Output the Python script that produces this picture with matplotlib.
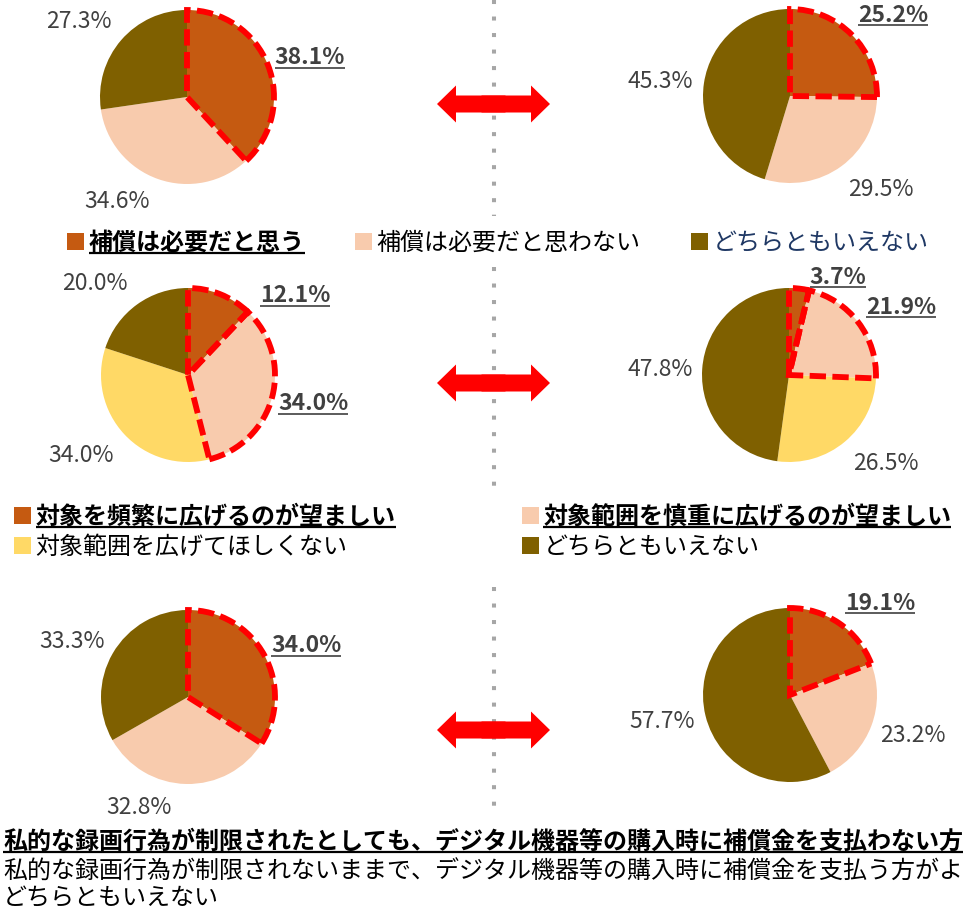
import matplotlib
matplotlib.use('Agg')
import matplotlib.pyplot as plt
from matplotlib.patches import Wedge, Patch, FancyArrow

plt.rcParams['font.family'] = ['Noto Sans CJK JP', 'DejaVu Sans']

W, H = 963, 910

# ---------------- data ----------------
q1_categories = ['補償は必要だと思う', '補償は必要だと思わない', 'どちらともいえない']
q1_colors = ['#C55A11', '#F8CBAD', '#7F6000']
q1_left = [38.1, 34.6, 27.3]
q1_right = [25.2, 29.5, 45.3]
q1_highlight = [0]

q2_categories = ['対象を頻繁に広げるのが望ましい', '対象範囲を慎重に広げるのが望ましい',
                 '対象範囲を広げてほしくない', 'どちらともいえない']
q2_colors = ['#C55A11', '#F8CBAD', '#FFD966', '#7F6000']
q2_left = [12.1, 34.0, 34.0, 20.0]
q2_right = [3.7, 21.9, 26.5, 47.8]
q2_highlight = [0, 1]

q3_categories = ['私的な録画行為が制限されたとしても、デジタル機器等の購入時に補償金を支払わない方',
                 '私的な録画行為が制限されないままで、デジタル機器等の購入時に補償金を支払う方がよ',
                 'どちらともいえない']
q3_colors = ['#C55A11', '#F8CBAD', '#7F6000']
q3_left = [34.0, 32.8, 33.3]
q3_right = [19.1, 23.2, 57.7]
q3_highlight = [0]

# ---------------- layout (image pixel coords, y down) ----------------
R = 87
pies = [
    # values, colors, highlight, center, label positions
    (q1_left, q1_colors, q1_highlight, (187, 97), [(310, 58), (117, 202), (79, 22)]),
    (q1_right, q1_colors, q1_highlight, (790, 96), [(893, 15), (881, 189), (660, 81)]),
    (q2_left, q2_colors, q2_highlight, (188, 375), [(295, 296), (313, 404), (81, 456), (95, 284)]),
    (q2_right, q2_colors, q2_highlight, (789, 375), [(838, 277), (901, 307), (886, 464), (660, 369)]),
    (q3_left, q3_colors, q3_highlight, (188, 697), [(306, 646), (139, 807), (72, 642)]),
    (q3_right, q3_colors, q3_highlight, (790, 695), [(880, 603), (913, 735), (662, 722)]),
]
arrow_y = [104, 383, 730]
divider_segments = [(0, 216), (267, 492), (587, 817)]


def Y(y):
    return H - y


fig = plt.figure(figsize=(W / 100, H / 100), dpi=100)
ax = fig.add_axes([0, 0, 1, 1])

label_color = '#404040'
underline_items = []  # (text, color, lw)

for vals, cols, hl, (cx, cy), lpos in pies:
    wedges, _ = ax.pie(vals, colors=cols, startangle=90, counterclock=False,
                       center=(cx, Y(cy)), radius=R,
                       wedgeprops=dict(linewidth=0))
    for i in hl:
        w = wedges[i]
        ax.add_patch(Wedge(w.center, w.r, w.theta1, w.theta2, fill=False,
                           edgecolor='#FF0000', linewidth=4.2,
                           linestyle=(0, (2.8, 1.1)), joinstyle='miter', zorder=5))
    for i, (v, (lx, ly)) in enumerate(zip(vals, lpos)):
        t = ax.text(lx, Y(ly), f'{v:.1f}%', ha='center', va='center', fontsize=16.5,
                    color=label_color, fontweight='bold' if i in hl else 'normal', zorder=6)
        if i in hl:
            underline_items.append((t, label_color, 1.2))

# divider dotted line
for y0, y1 in divider_segments:
    ax.plot([494, 494], [Y(y0), Y(y1)], color='#A6A6A6', lw=2.9,
            linestyle=(0, (1, 3.1)), dash_capstyle='butt', zorder=1)

# double arrows (two overlapping halves)
for ay in arrow_y:
    for d in (-1, 1):
        ax.add_patch(FancyArrow(493.5 - d * 12, Y(ay), d * 68.5, 0, width=17, head_width=37,
                                head_length=19, length_includes_head=True,
                                color='#FF0000', linewidth=0, zorder=4))

# legends
fs_leg = 17.3
leg1 = ax.legend(handles=[Patch(facecolor=c, edgecolor='none') for c in q1_colors],
                 labels=q1_categories, loc='center left', bbox_to_anchor=(67, Y(243)),
                 bbox_transform=ax.transData, ncol=3, frameon=False, fontsize=fs_leg,
                 handlelength=0.7, handleheight=0.7, handletextpad=0.2,
                 columnspacing=2.1, borderpad=0, borderaxespad=0)
lt = leg1.get_texts()
lt[0].set_fontweight('bold')
lt[2].set_color('#1F3864')
underline_items.append((lt[0], 'black', 1.6))
ax.add_artist(leg1)

order = [0, 2, 1, 3]
leg2 = ax.legend(handles=[Patch(facecolor=q2_colors[i], edgecolor='none') for i in order],
                 labels=[q2_categories[i] for i in order], loc='center left',
                 bbox_to_anchor=(14, Y(532.5)), bbox_transform=ax.transData, ncol=2,
                 frameon=False, fontsize=fs_leg, handlelength=0.7, handleheight=0.7,
                 handletextpad=0.2, columnspacing=5.25, labelspacing=0.2,
                 borderpad=0, borderaxespad=0)
lt2 = leg2.get_texts()
for k in (0, 2):
    lt2[k].set_fontweight('bold')
    underline_items.append((lt2[k], 'black', 1.6))

# third question legend (text only)
q3_y = [842, 872, 898]
for k, (txt, yy) in enumerate(zip(q3_categories, q3_y)):
    t = ax.text(3, Y(yy), txt, ha='left', va='center', fontsize=fs_leg, color='black',
                fontweight='bold' if k in q3_highlight else 'normal')
    if k in q3_highlight:
        underline_items.append((t, 'black', 1.6))

ax.set_xlim(0, W)
ax.set_ylim(0, H)
ax.set_aspect('equal')
ax.axis('off')

fig.canvas.draw()
renderer = fig.canvas.get_renderer()
for t, c, lw in underline_items:
    bb = t.get_window_extent(renderer)
    ax.plot([bb.x0, min(bb.x1, W)], [bb.y0 + 2, bb.y0 + 2], color=c, lw=lw,
            solid_capstyle='butt', zorder=7)

fig.savefig('out.png', dpi=100)
